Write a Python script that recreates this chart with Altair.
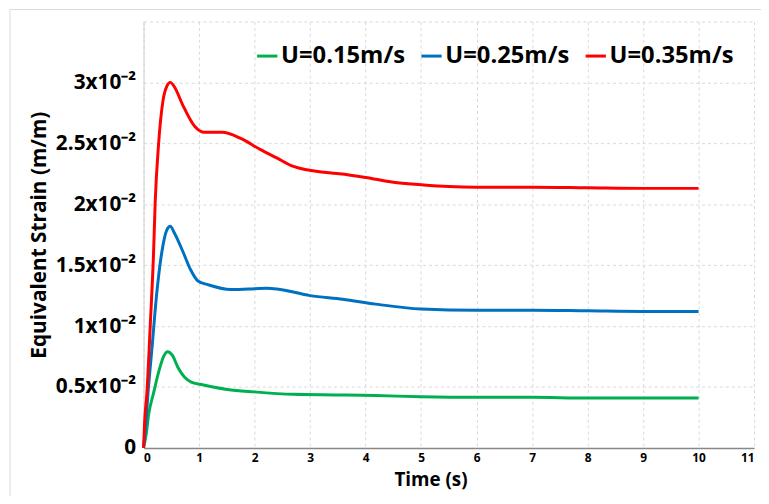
import altair as alt
import pandas as pd

# Values (strain in units of 1e-2 m/m)
t_015 = [0.0, 0.05, 0.09, 0.18, 0.27, 0.36, 0.43, 0.52, 0.62, 0.74, 0.86, 1.04, 1.25, 1.51, 1.99, 2.7, 3.5, 4.18, 5.0, 6.0, 7.0, 8.0, 9.0, 10.0]
y_015 = [0.0, 0.12, 0.27, 0.45, 0.62, 0.75, 0.79, 0.76, 0.66, 0.58, 0.54, 0.52, 0.50, 0.48, 0.46, 0.44, 0.435, 0.43, 0.42, 0.415, 0.415, 0.41, 0.41, 0.41]

t_025 = [0.0, 0.04, 0.08, 0.15, 0.24, 0.33, 0.42, 0.48, 0.56, 0.71, 0.85, 0.98, 1.16, 1.57, 1.9, 2.22, 2.4, 3.0, 3.59, 4.18, 5.0, 6.0, 7.0, 8.0, 9.0, 10.0]
y_025 = [0.0, 0.2, 0.45, 0.81, 1.28, 1.61, 1.79, 1.82, 1.76, 1.61, 1.46, 1.37, 1.34, 1.30, 1.305, 1.31, 1.305, 1.25, 1.22, 1.18, 1.14, 1.13, 1.13, 1.125, 1.12, 1.12]

t_035 = [0.0, 0.02, 0.06, 0.12, 0.18, 0.21, 0.27, 0.35, 0.42, 0.48, 0.56, 0.7, 0.92, 1.1, 1.42, 1.75, 2.1, 2.4, 2.7, 3.29, 3.53, 4.0, 4.5, 5.0, 5.5, 6.0, 7.0, 8.0, 9.0, 10.0]
y_035 = [0.0, 0.22, 0.45, 1.0, 1.6, 2.02, 2.49, 2.85, 2.97, 3.0, 2.96, 2.82, 2.64, 2.59, 2.59, 2.54, 2.45, 2.38, 2.31, 2.26, 2.25, 2.22, 2.18, 2.16, 2.145, 2.14, 2.14, 2.135, 2.13, 2.13]

x_ticks = [0, 1, 2, 3, 4, 5, 6, 7, 8, 9, 10, 11]
y_ticks = [0, 0.5, 1, 1.5, 2, 2.5, 3, 3.5]

series_names = ["U=0.15m/s", "U=0.25m/s", "U=0.35m/s"]
series_colors = ["#00B050", "#0070C0", "#FF0000"]

rows = []
for name, ts, ys in zip(series_names, [t_015, t_025, t_035], [y_015, y_025, y_035]):
    for t, y in zip(ts, ys):
        rows.append({"series": name, "t": t, "y": y})
df = pd.DataFrame(rows)

FONT = "Open Sans"

lines = alt.Chart(df).mark_line(strokeWidth=3, interpolate="monotone").encode(
    x=alt.X("t:Q",
            scale=alt.Scale(domain=[0, 11], nice=False),
            axis=alt.Axis(title="Time (s)", values=x_ticks, labelOverlap=False,
                          labelFontSize=12, labelFontWeight="bold", labelColor="black",
                          labelPadding=5, ticks=False, domainColor="#888888", domainWidth=1.5,
                          grid=True, gridDash=[3, 3], gridColor="#d9d9d9",
                          titleFontSize=19, titleFontWeight="bold", titleColor="black",
                          titlePadding=7, titleX=290)),
    y=alt.Y("y:Q",
            scale=alt.Scale(domain=[0, 3.5], nice=False),
            axis=alt.Axis(title="Equivalent Strain (m/m)", values=y_ticks, labelOverlap=False,
                          labelExpr="datum.value == 0 ? '0' : (datum.value > 3.2 ? '' : (datum.value + 'x10⁻²'))",
                          labelFontSize=21, labelFontWeight="bold", labelColor="black",
                          labelPadding=8, ticks=False, domainColor="#d0d0d0",
                          grid=True, gridDash=[3, 3], gridColor="#d9d9d9",
                          titleFontSize=21, titleFontWeight="bold", titleColor="black",
                          titlePadding=6)),
    color=alt.Color("series:N",
                    scale=alt.Scale(domain=series_names, range=series_colors),
                    legend=alt.Legend(title=None, orient="none", legendX=113, legendY=23,
                                      direction="horizontal", symbolType="stroke",
                                      symbolSize=420, symbolStrokeWidth=3,
                                      labelFontSize=24, labelFontWeight="bold",
                                      labelColor="black", columnPadding=9, labelOffset=2,
                                      labelLimit=300)),
)

frame = alt.Chart(pd.DataFrame({"a": [0]})).mark_rect(
    fill=None, stroke="#d9d9d9", strokeWidth=1
).encode(x=alt.value(-135), x2=alt.value(640), y=alt.value(-12), y2=alt.value(60 + 431))

chart = alt.layer(frame, lines).properties(
    width=617, height=431,
    autosize=alt.AutoSizeParams(type="none"),
    padding={"left": 137, "top": 11, "right": 7, "bottom": 46},
).configure(font=FONT).configure_view(stroke=None)

chart.save("out.html", embed_options={"renderer": "svg", "actions": False})
